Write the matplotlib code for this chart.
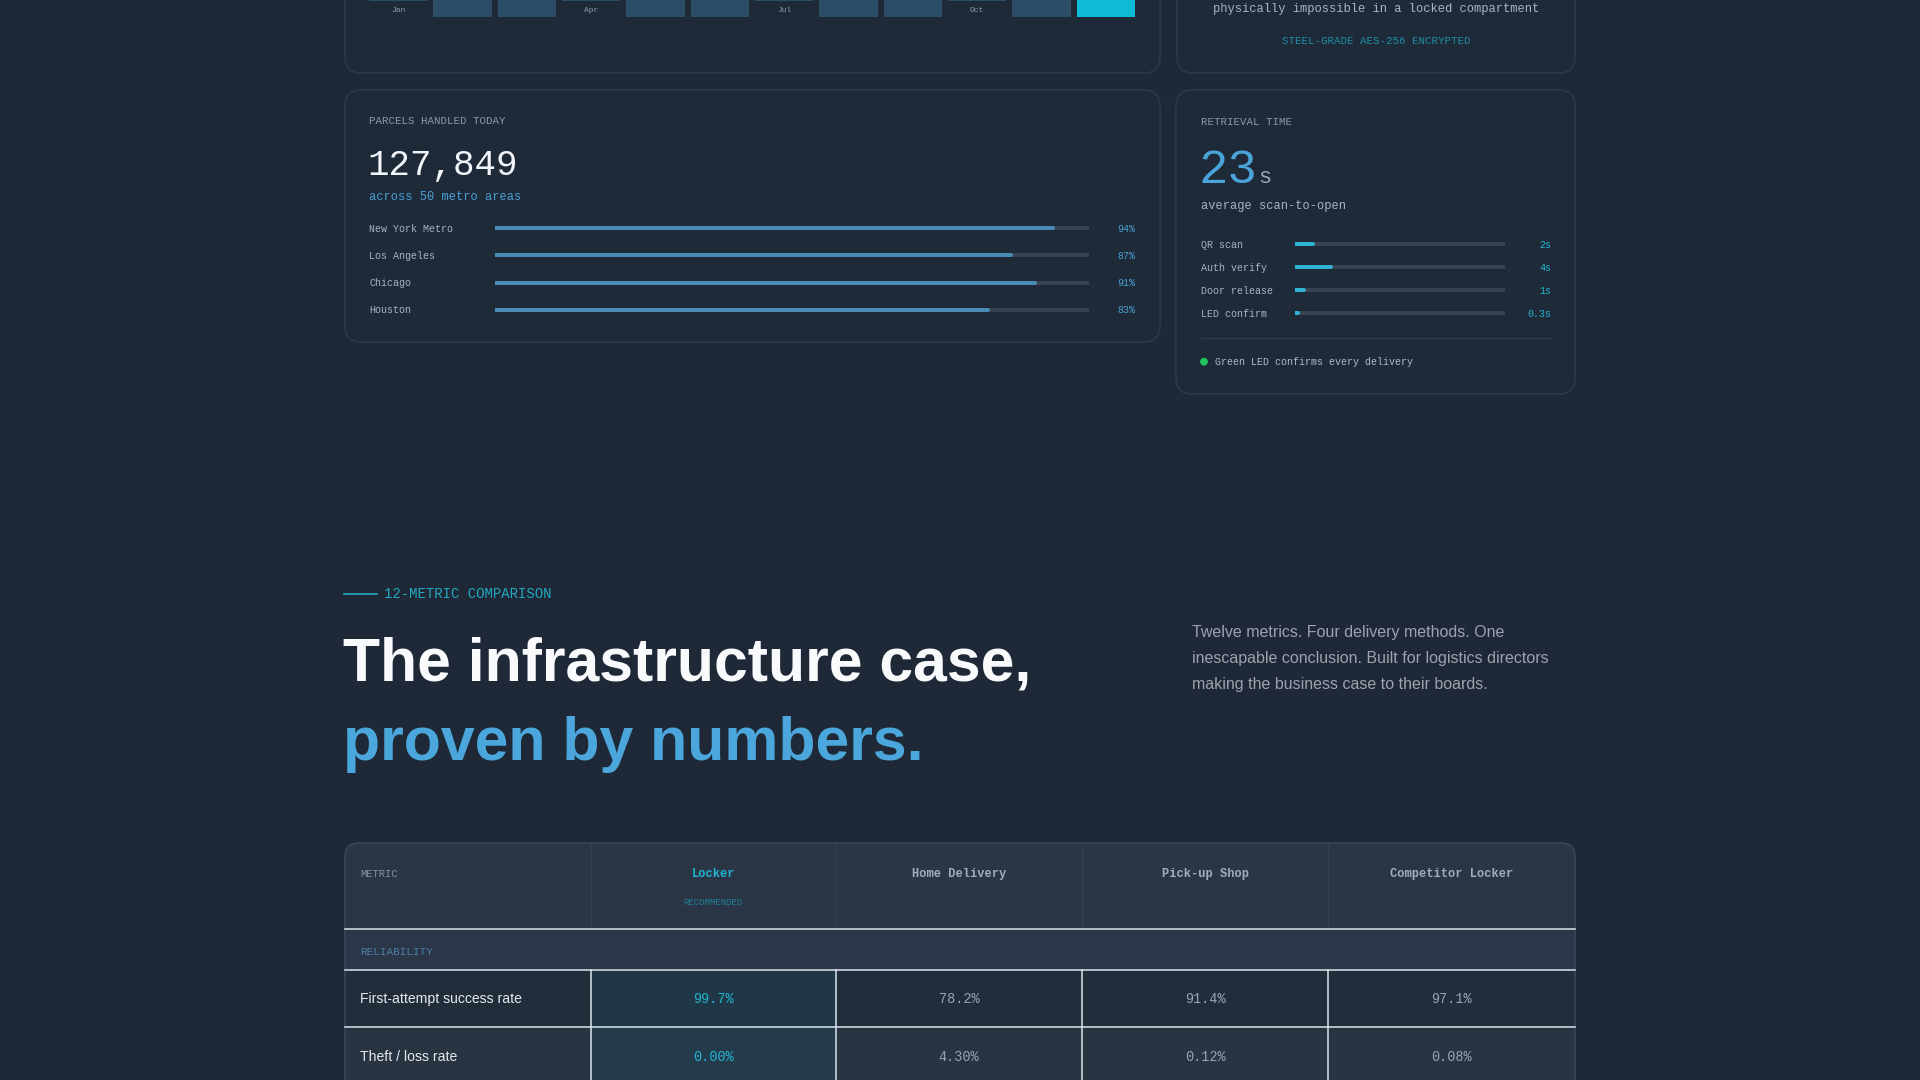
import matplotlib
matplotlib.use('Agg')
import matplotlib.pyplot as plt
from matplotlib.patches import FancyBboxPatch, Rectangle, Circle

# ---- data ----
months = ['Jan', 'Feb', 'Mar', 'Apr', 'May', 'Jun', 'Jul', 'Aug', 'Sep', 'Oct', 'Nov', 'Dec']
month_ticks = ['Jan', 'Apr', 'Jul', 'Oct']
# bar tops are cropped out of the frame, heights are rough guesses
month_vals = [70, 72, 74, 76, 78, 80, 82, 84, 86, 88, 90, 100]

parcels_today = 127849
metro_areas = 50
cities = ['New York Metro', 'Los Angeles', 'Chicago', 'Houston']
city_pct = [94, 87, 91, 83]

avg_secs = 23
steps = ['QR scan', 'Auth verify', 'Door release', 'LED confirm']
step_secs = [2, 4, 1, 0.3]

methods = ['Locker', 'Home Delivery', 'Pick-up Shop', 'Competitor Locker']
metric_names = ['First-attempt success rate', 'Theft / loss rate']
success_rate = [99.7, 78.2, 91.4, 97.1]
theft_rate = [0.00, 4.30, 0.12, 0.08]

# ---- style ----
W, H = 1920, 1080
BG = '#1e2836'
CARD = '#1f2a38'
EDGE = '#2d3949'
MONO = 'Liberation Mono'
SANS = 'Liberation Sans'
GREY = '#8e99a8'
BLUE = '#4a9fd4'
CYAN = '#22b5cf'
TRACK = '#374352'


def pt(px):
    return px * 0.72


def box(x0, y0, x1, y1):
    return [x0 / W, 1 - y1 / H, (x1 - x0) / W, (y1 - y0) / H]


fig = plt.figure(figsize=(19.2, 10.8), dpi=100, facecolor=BG)
bg = fig.add_axes([0, 0, 1, 1])
bg.set_xlim(0, W)
bg.set_ylim(H, 0)
bg.axis('off')


def card(x0, y0, x1, y1, r=16):
    bg.add_patch(FancyBboxPatch((x0, y0), x1 - x0, y1 - y0,
                                boxstyle=f'round,pad=0,rounding_size={r}',
                                fc=CARD, ec=EDGE, lw=1.2))


def txt(x, y, s, px, color, family=MONO, **kw):
    kw.setdefault('va', 'center')
    bg.text(x, y, s, fontsize=pt(px), color=color, family=family, **kw)


# ---- cards ----
card(345, -80, 1160, 73)
card(1177, -80, 1575, 73)
card(345, 90, 1160, 342)
card(1176, 90, 1575, 394)

# ---- monthly bars (top card, mostly cropped) ----
axm = fig.add_axes(box(366, -300, 1138, 16.5))
axm.set_facecolor('none')
axm.axis('off')
axm.set_xlim(-0.5, 11.5)
axm.set_ylim(0, 100)
ppu = 316.5 / 100
bottoms = [15.5 / ppu if m in month_ticks else 0 for m in months]
colors = ['#2b4d67'] * 11 + ['#0fbbd5']
axm.bar(range(12), month_vals, width=0.91, bottom=bottoms, color=colors)
for i, m in enumerate(months):
    if m in month_ticks:
        axm.text(i, (16.5 - 10) / ppu, m, ha='center', va='center',
                 fontsize=pt(8), color='#8e99a8', family=MONO)

txt(1376, 9, 'physically impossible in a locked compartment', 12.1, '#a9b3bf', ha='center')
txt(1376, 40.5, 'STEEL-GRADE AES-256 ENCRYPTED', 10.8, '#1d8ea3', ha='center')

# ---- parcels card ----
txt(369, 121.5, 'PARCELS HANDLED TODAY', 10.8, GREY)
txt(367, 174.5, f'{parcels_today:,}', 35.7, '#f1f5f9', va='baseline')
txt(369, 197, f'across {metro_areas} metro areas', 12, BLUE)

axp = fig.add_axes(box(495, 214.75, 1088.5, 323.25))
axp.set_facecolor('none')
axp.axis('off')
axp.set_xlim(0, 100)
axp.set_ylim(3.5, -0.5)
rows = range(len(cities))
axp.hlines(rows, 0, 100, colors=TRACK, lw=pt(4), capstyle='round')
axp.hlines(rows, 0, city_pct, colors='#4a8bb5', lw=pt(4), capstyle='round')
for i, (c, v) in enumerate(zip(cities, city_pct)):
    y = 228.8 + 27.1 * i
    txt(369, y, c, 10, '#a9b3bf')
    txt(1135, y, f'{v}%', 10, BLUE, ha='right')

# ---- retrieval card ----
txt(1201, 122, 'RETRIEVAL TIME', 10.8, GREY)
txt(1198, 182.7, f'{avg_secs}', 49, '#4aa3d9', va='baseline')
txt(1258, 182.7, 's', 22, '#9ca3af', va='baseline')
txt(1201, 205.5, 'average scan-to-open', 12, '#a9b3bf')

axr = fig.add_axes(box(1295, 232.8, 1504.7, 324.8))
axr.set_facecolor('none')
axr.axis('off')
axr.set_xlim(0, avg_secs)
axr.set_ylim(3.5, -0.5)
rows = range(len(steps))
axr.hlines(rows, 0, avg_secs, colors=TRACK, lw=pt(4), capstyle='round')
axr.hlines(rows, 0, step_secs, colors='#2fb3d5', lw=pt(4), capstyle='round')
for i, (s, v) in enumerate(zip(steps, step_secs)):
    y = 244.8 + 23 * i
    txt(1201, y, s, 10, '#a9b3bf')
    txt(1551, y, f'{v:g}s', 10, CYAN, ha='right')

bg.plot([1201, 1551], [338, 338], color='#2e3a4a', lw=1)
bg.add_patch(Circle((1204, 361.7), 3.2, color='#22c55e'))
txt(1215, 361.7, 'Green LED confirms every delivery', 10, '#b0b8c4')

# ---- section heading ----
bg.plot([344, 377], [594, 594], color='#1fa8bf', lw=1.2)
txt(384, 594, '12-METRIC COMPARISON', 13.9, '#22a8c0')
txt(343, 681, 'The infrastructure case,', 60.8, '#f8fafc', family=SANS,
    weight='bold', va='baseline')
txt(343, 760, 'proven by numbers.', 60.8, '#4ba6dc', family=SANS,
    weight='bold', va='baseline')

para = ['Twelve metrics. Four delivery methods. One',
        'inescapable conclusion. Built for logistics directors',
        'making the business case to their boards.']
for i, line in enumerate(para):
    txt(1192, 632.5 + 25.8 * i, line, 16, '#9ca3af', family=SANS)

# ---- comparison table ----
col_x = [345, 590.5, 836, 1082, 1328, 1575]
head_top, head_bot, sec_bot, row_h = 843, 929, 970, 57.3

bg.add_patch(FancyBboxPatch((345, head_top), 1230, 400,
                            boxstyle='round,pad=0,rounding_size=14',
                            fc='#2a3646', ec='none'))
bg.add_patch(Rectangle((345, head_bot), 1230, sec_bot - head_bot, fc='#2b3748', ec='none'))

row_bg = ['#222d3b', '#283442']
lock_bg = ['#1f3747', '#243b4c']
table_vals = [[f'{v:.1f}%' for v in success_rate],
              [f'{v:.2f}%' for v in theft_rate]]
for r, name in enumerate(metric_names):
    y0 = sec_bot + r * row_h
    bg.add_patch(Rectangle((345, y0), 1230, row_h, fc=row_bg[r], ec='none'))
    bg.add_patch(Rectangle((col_x[1], y0), col_x[2] - col_x[1], row_h,
                           fc=lock_bg[r], ec='none'))
    yc = y0 + row_h / 2 + 0.8
    txt(360, yc, name, 14, '#e5e7eb', family=SANS)
    for c, val in enumerate(table_vals[r]):
        xc = (col_x[c + 1] + col_x[c + 2]) / 2
        txt(xc, yc, val, 13.5, CYAN if c == 0 else '#9ca3af', ha='center')

# faint header dividers, white body grid
for x in col_x[1:-1]:
    bg.plot([x, x], [head_top, head_bot], color='#334050', lw=1)
    bg.plot([x, x], [sec_bot, 1100], color='#dce3ea', lw=1.1)
for y in [head_bot, sec_bot, sec_bot + row_h]:
    bg.plot([345, 1575], [y, y], color='#dce3ea', lw=1.1)

bg.add_patch(FancyBboxPatch((345, head_top), 1230, 400,
                            boxstyle='round,pad=0,rounding_size=14',
                            fc='none', ec='#3a4656', lw=1.2))

txt(360, 874, 'METRIC', 10.5, '#8793a2')
for c, m in enumerate(methods):
    xc = (col_x[c + 1] + col_x[c + 2]) / 2
    txt(xc, 874, m, 12, CYAN if c == 0 else '#a3adb9', ha='center', weight='bold')
txt((col_x[1] + col_x[2]) / 2, 902.5, 'RECOMMENDED', 9, '#1e7f93', ha='center')
txt(360, 952, 'RELIABILITY', 11, '#4a7fa5')

fig.savefig('out.png', dpi=100, facecolor=BG)
